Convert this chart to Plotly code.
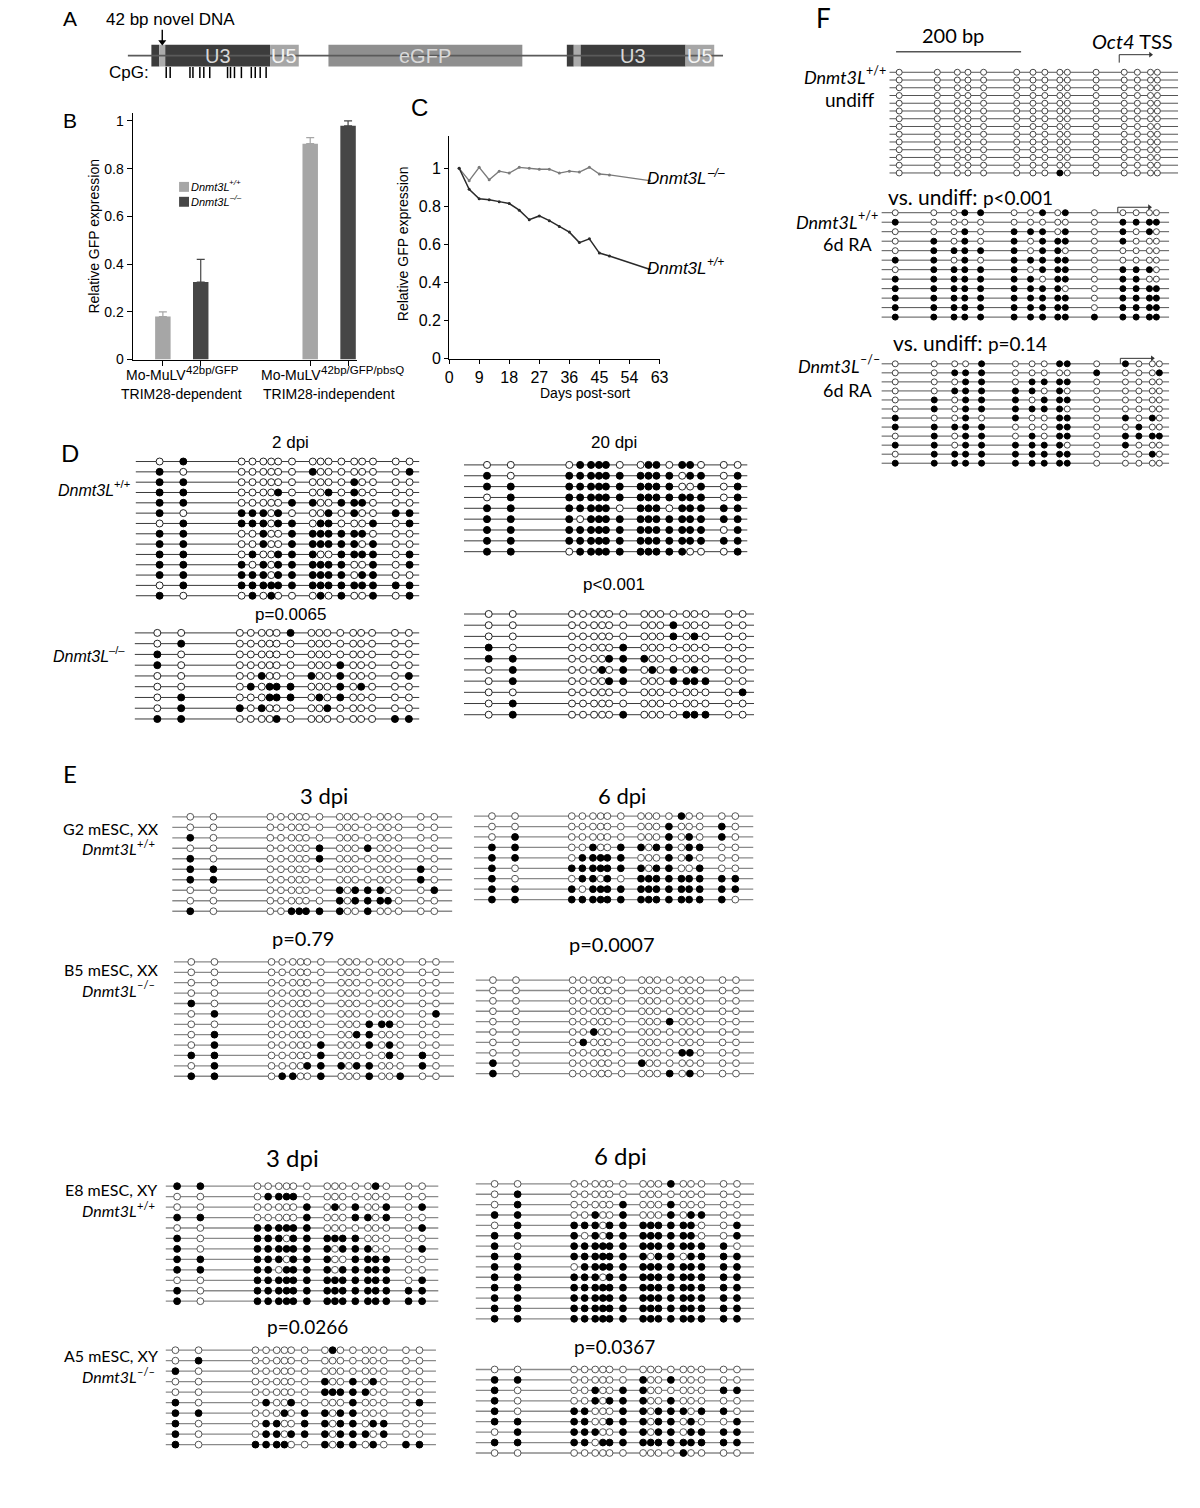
import plotly.graph_objects as go

W, H = 1200, 1508
SANS = "Liberation Sans, Arial, Helvetica, sans-serif"
MYR = "Lato, Noto Sans, sans-serif"

# ======================= DATA =======================
# --- Panel A: provirus map (construct units from left end of backbone) ---
A_BACKBONE = [0, 602]
A_ELEM_KIND = ["R", "novel", "U3", "U5", "eGFP", "R", "novel", "U3", "U5"]
A_ELEM_START = [24, 32, 38, 144, 203, 444, 451, 458, 564]
A_ELEM_END = [32, 38, 144, 173, 399, 451, 458, 564, 593]
A_ELEM_LABEL = ["", "", "U3", "U5", "eGFP", "", "", "U3", "U5"]
A_CPG_POS = [39, 43, 63, 66, 73, 77, 83, 101, 104, 108, 115, 125, 129, 134, 140]

# --- Panel B: relative GFP expression ---
B_GROUP_BASE = ["Mo-MuLV", "Mo-MuLV"]
B_GROUP_SUP = ["42bp/GFP", "42bp/GFP/pbsQ"]
B_GROUP_LINE2 = ["TRIM28-dependent", "TRIM28-independent"]
B_SERIES_SUP = ["+/+", "–/–"]
B_WT = [0.18, 0.905]
B_WT_ERR = [0.02, 0.025]
B_KO = [0.325, 0.98]
B_KO_ERR = [0.095, 0.02]
B_YTICKS = [0, 0.2, 0.4, 0.6, 0.8, 1]
B_YTICKTEXT = ["0", "0.2", "0.4", "0.6", "0.8", "1"]

# --- Panel C: GFP expression over time ---
C_DAYS = [3, 6, 9, 12, 15, 18, 21, 24, 27, 30, 33, 36, 39, 42, 45, 48, 60]
C_KO = [1.0, 0.935, 1.005, 0.94, 0.985, 0.975, 1.005, 1.0, 0.995, 0.995, 0.975, 0.985, 0.98, 1.005, 0.97, 0.965, 0.935]
C_WT = [1.0, 0.89, 0.84, 0.835, 0.825, 0.815, 0.78, 0.73, 0.75, 0.725, 0.695, 0.665, 0.61, 0.63, 0.555, 0.54, 0.47]
C_XTICKS = [0, 9, 18, 27, 36, 45, 54, 63]
C_YTICKS = [0, 0.2, 0.4, 0.6, 0.8, 1]
C_YTICKTEXT = ["0", "0.2", "0.4", "0.6", "0.8", "1"]

# --- Bisulfite data: CpG positions (bp) ---
MULV_CPG_BP = [0, 24, 83, 94, 105, 113, 120, 134, 155, 163, 171, 184, 197, 205, 216, 239, 253]
OCT4_CPG_BP = [0, 61, 93, 110, 135, 188, 214, 233, 257, 269, 315, 360, 381, 402, 413]
OCT4_TSS_BP = 352
SCALE_BAR_BP = 200

# 1 = methylated (filled), 0 = unmethylated (open); one string per clone
D_2DPI_WT = ["01 000000 0000000 00", "10 000000 1000000 01", "11 000000 0000100 00",
             "11 000010 0010100 00", "11 000001 1001110 00", "10 111010 0010100 11",
             "01 111011 0110001 01", "11 001001 1111110 00", "11 001001 1111101 00",
             "11 010011 1001111 01", "11 101011 1111001 01", "11 111011 1111011 00",
             "01 111111 1111111 11", "10 010100 0101001 01"]
D_2DPI_KO = ["00 000001 0000000 00", "01 000000 0000000 00", "10 000000 0000000 00",
             "10 000000 0001000 00", "00 001000 1001000 01", "00 010111 0001010 00",
             "01 000111 0101000 00", "01 101000 0010000 00", "11 000010 0000000 11"]
D_20DPI_WT = ["00 011110 0110110 00", "10 111111 1111011 01", "11 111111 1111001 01",
              "01 111111 1111111 01", "11 111110 1110111 11", "11 101111 1111111 11",
              "11 111111 1111111 01", "11 111111 1111111 11", "11 011111 1111100 01"]
D_20DPI_KO = ["00 000000 0000000 00", "00 000000 0001000 00", "00 000000 0001010 00",
              "10 000001 0000000 00", "11 000011 1000000 00", "01 000101 0101010 00",
              "01 000011 0001111 00", "00 000000 0000000 01", "01 000000 0000000 00",
              "01 000001 0000111 00"]
E_G2_3DPI = ["00 000000 0000000 00", "00 000000 0000000 00", "10 000000 0000000 00",
             "00 000001 0001000 00", "10 000001 0000000 00", "11 000000 0000000 10",
             "11 000000 0000000 10", "00 000000 1011100 01", "00 000000 1011110 00",
             "10 001111 1001000 00"]
E_B5_3DPI = ["00 000000 0000000 00", "00 000000 0000000 00", "00 000000 0000000 00",
             "00 000000 0000000 00", "10 000000 0000000 00", "01 000000 0000000 01",
             "00 000000 0001110 00", "01 000000 0011000 00", "01 000001 0001010 00",
             "11 000001 0000010 10", "01 000011 1011000 10", "11 011001 0001001 00"]
E_G2_6DPI = ["00 000000 0000100 00", "00 000000 0001000 10", "01 000000 0001010 10",
             "11 001001 1011011 00", "11 011111 0001010 00", "10 111111 1011001 00",
             "10 011010 1111111 11", "11 101111 1111111 11", "11 111111 1111111 10"]
E_B5_6DPI = ["00 000000 0000000 00", "00 000000 0000000 00", "00 000000 0000000 00",
             "00 000000 0000000 00", "00 000000 0001000 00", "00 001000 0000000 00",
             "00 010000 0000000 00", "00 000000 0000110 00", "10 000000 1000000 00",
             "10 000000 0001010 00"]
E_E8_3DPI = ["11 000000 0000010 00", "00 011110 0000000 00", "00 000001 0101001 01",
             "11 000001 0001101 00", "00 111111 0000000 01", "10 111011 1111000 00",
             "10 111111 1011100 01", "11 111011 1001111 00", "11 110111 1011111 00",
             "00 111111 1111111 01", "10 111111 1111111 11", "10 111111 1111111 11"]
E_A5_3DPI = ["00 000000 0100000 00", "01 000000 0000000 00", "10 000000 0000000 00",
             "00 000000 1001010 00", "00 000000 1111100 00", "10 010010 0001000 01",
             "11 000101 1011000 00", "10 011001 1011011 00", "10 011011 1011101 00",
             "10 111100 1011010 11"]
E_E8_6DPI = ["00 000000 0001000 00", "01 000000 0000000 00", "01 000001 0001000 00",
             "11 001001 0001011 00", "01 111011 1111110 01", "11 101011 1111110 01",
             "10 111111 1111111 10", "11 111111 1011011 11", "11 011111 1111111 11",
             "11 111011 1111111 11", "11 111111 1111111 11", "11 111111 1111111 11",
             "11 111111 1111111 11", "11 111111 1111111 11"]
E_A5_6DPI = ["00 000000 0000000 00", "11 000000 1001000 00", "10 001001 1000000 11",
             "10 001011 1001000 00", "10 110001 1011101 10", "11 110011 1011010 01",
             "01 111001 1011011 11", "11 110111 1111111 11", "00 000000 0000100 00"]
F_UNDIFF = ["000000000000000"] * 13 + ["000000001000000"]
F_RA_WT = ["000110010100000", "100000000001111", "000101110101010", "010101011101000",
           "011111011000000", "110101111100000", "011111011101110", "111111101101100",
           "111111111001111", "111111111101111", "111111111101111", "111111111111111"]
F_RA_KO = ["000010001101000", "001110000010001", "000110111100000", "001111101000000",
           "010111011100000", "010111111000000", "100101001101010", "111110001100100",
           "010110101101111", "110111111001000", "011111111100010", "111111111100000"]

# ======================= FIGURE =======================
fig = go.Figure()
layout = dict(width=W, height=H, margin=dict(l=0, r=0, t=0, b=0),
              paper_bgcolor="white", plot_bgcolor="white", barmode="overlay",
              hovermode=False, showlegend=False)
annotations = []
shapes = []
_ax = [0]


def new_axes(x0, x1, y0, y1, xr, yr, xkw=None, ykw=None):
    _ax[0] += 1
    k = _ax[0]
    s = "" if k == 1 else str(k)
    xa = dict(domain=[x0 / W, x1 / W], range=xr, anchor="y" + s, visible=False,
              fixedrange=True, showgrid=False, zeroline=False)
    ya = dict(domain=[1 - y1 / H, 1 - y0 / H], range=yr, anchor="x" + s, visible=False,
              fixedrange=True, showgrid=False, zeroline=False)
    if xkw:
        xa.update(xkw)
    if ykw:
        ya.update(ykw)
    layout["xaxis" + s] = xa
    layout["yaxis" + s] = ya
    return "x" + s, "y" + s


def text(x, y, s, size, font=SANS, anchor="center", color="black", angle=0):
    annotations.append(dict(x=x / W, y=1 - y / H, xref="paper", yref="paper", text=s,
                            showarrow=False, xanchor=anchor, yanchor="middle",
                            font=dict(family=font, size=size, color=color), textangle=angle))


def sup_label(x_split, y, base, sup, size, font=SANS, italic=True, sup_italic=False, sup_size=None, gap=0.5):
    """base text ending at x_split, superscript starting at x_split (no <sup> tag)."""
    sup_size = sup_size or round(size * 0.7, 1)
    b = "<i>%s</i>" % base if italic else base
    s = "<i>%s</i>" % sup if sup_italic else sup
    annotations.append(dict(x=x_split / W, y=1 - y / H, xref="paper", yref="paper", text=b,
                            showarrow=False, xanchor="right", yanchor="middle", borderpad=0,
                            borderwidth=0, font=dict(family=font, size=size, color="black")))
    annotations.append(dict(x=(x_split + gap) / W, y=1 - (y - 0.36 * size) / H, xref="paper",
                            yref="paper", text=s, showarrow=False, xanchor="left", yanchor="middle",
                            borderpad=0, borderwidth=0,
                            font=dict(family=font, size=sup_size, color="black")))


def arrow(xa, ya, xs, ys, head_symbol, color, width, head_size):
    fig.add_trace(go.Scatter(x=xs, y=ys, mode="lines", line=dict(color=color, width=width),
                             xaxis=xa, yaxis=ya, showlegend=False, hoverinfo="skip"))
    fig.add_trace(go.Scatter(x=[xs[-1]], y=[ys[-1]], mode="markers", cliponaxis=False,
                             marker=dict(symbol=head_symbol, size=head_size, color=color),
                             xaxis=xa, yaxis=ya, showlegend=False, hoverinfo="skip"))


# ---------------- Panel A ----------------
xa, ya = new_axes(125, 727, 28, 84, A_BACKBONE, [-1.273, 1.273])
fig.add_trace(go.Scatter(x=A_BACKBONE, y=[0, 0], mode="lines", line=dict(color="#5a5a5a", width=1.6),
                         xaxis=xa, yaxis=ya, showlegend=False, hoverinfo="skip"))
kind_fill = {"R": "#3c3c3c", "novel": "#ababab", "U3": "#3c3c3c", "U5": "#a6a6a6", "eGFP": "#8f8f8f"}
kind_txt = {"R": "white", "novel": "white", "U3": "#d8d8d8", "U5": "#f4f4f4", "eGFP": "#d9d9d9"}
fig.add_trace(go.Bar(orientation="h", y=[0] * len(A_ELEM_START),
                     x=[e - s for s, e in zip(A_ELEM_START, A_ELEM_END)], base=A_ELEM_START,
                     width=1, marker=dict(color=[kind_fill[k] for k in A_ELEM_KIND], line=dict(width=0)),
                     xaxis=xa, yaxis=ya, showlegend=False, hoverinfo="skip"))
for s_, e_, lab, k in zip(A_ELEM_START, A_ELEM_END, A_ELEM_LABEL, A_ELEM_KIND):
    if lab:
        annotations.append(dict(x=(s_ + e_) / 2, y=0, xref=xa, yref=ya, text=lab, showarrow=False,
                                xanchor="center", yanchor="middle",
                                font=dict(family=SANS, size=20, color=kind_txt[k])))
fig.add_trace(go.Scatter(x=A_CPG_POS, y=[-0.77] * len(A_CPG_POS), mode="markers",
                         marker=dict(symbol="line-ns", size=8, line=dict(width=1.5, color="black")),
                         xaxis=xa, yaxis=ya, showlegend=False, hoverinfo="skip", cliponaxis=False))
novel_mid = (A_ELEM_START[1] + A_ELEM_END[1]) / 2
arrow(xa, ya, [novel_mid, novel_mid], [1.18, 0.62], "triangle-down", "black", 1.4, 7)
text(67, 19, "A", 21)
text(101, 20, "42 bp novel DNA", 17, anchor="left")
text(104, 73, "CpG:", 17, anchor="left")

# ---------------- Panel B ----------------
BAR_STEP = 0.257
bar_x = []
for gi in range(2):
    for si in range(2):
        bar_x.append(gi + (si - 0.5) * BAR_STEP)
axis_common = dict(visible=True, showline=True, linecolor="black", linewidth=1, ticks="outside",
                   ticklen=5, tickcolor="black", tickwidth=1, showgrid=False, zeroline=False)
xa, ya = new_axes(130, 357, 113.3, 361.7, [-0.334, 1.19], [0, 1.035],
                  xkw=dict(axis_common, tickvals=bar_x, showticklabels=False),
                  ykw=dict(axis_common, tickvals=B_YTICKS, ticktext=B_YTICKTEXT,
                           tickfont=dict(family=SANS, size=14, color="black")))
series = [(B_WT, B_WT_ERR, "#a6a6a6"), (B_KO, B_KO_ERR, "#464646")]
for si, (vals, errs, col) in enumerate(series):
    xs = [bar_x[gi * 2 + si] for gi in range(2)]
    fig.add_trace(go.Bar(x=xs, y=vals, width=0.105, marker=dict(color=col, line=dict(width=0)),
                         error_y=dict(type="data", array=errs, arrayminus=[0, 0], symmetric=False,
                                      color=col, thickness=1.2, width=4),
                         xaxis=xa, yaxis=ya, showlegend=False, hoverinfo="skip"))
    # legend swatch + label
    ly = 188 + 15 * si
    shapes.append(dict(type="rect", xref="paper", yref="paper", x0=177 / W, x1=187 / W,
                       y0=1 - (ly + 5) / H, y1=1 - (ly - 5) / H, fillcolor=col, line=dict(width=0)))
    sup_label(228, ly, "Dnmt3L", B_SERIES_SUP[si], 11, sup_italic=True, sup_size=8, gap=-1)
# group labels (split point chosen so that base+sup is centred on the group)
for gi, split in enumerate([183.5, 320]):
    sup_label(split, 377, B_GROUP_BASE[gi], B_GROUP_SUP[gi], 14, italic=False, sup_size=11.5)
    annotations.append(dict(x=gi, y=1 - 396 / H, xref=xa, yref="paper", text=B_GROUP_LINE2[gi],
                            showarrow=False, yanchor="middle", font=dict(family=SANS, size=14, color="black")))
text(91, 238, "Relative GFP expression", 14, angle=-90)
text(67, 121, "B", 21)

# ---------------- Panel C ----------------
xa, ya = new_axes(450, 662.7, 136.7, 361, [0, 63], [0, 1.17],
                  xkw=dict(axis_common, ticklen=4, tickvals=C_XTICKS,
                           tickfont=dict(family=SANS, size=16, color="black")),
                  ykw=dict(axis_common, ticklen=4, tickvals=C_YTICKS, ticktext=C_YTICKTEXT,
                           tickfont=dict(family=SANS, size=16, color="black")))
fig.add_trace(go.Scatter(x=C_DAYS, y=C_KO, mode="lines+markers", line=dict(color="#7a7a7a", width=1.3),
                         marker=dict(size=3, color="#7a7a7a"), xaxis=xa, yaxis=ya,
                         showlegend=False, hoverinfo="skip"))
fig.add_trace(go.Scatter(x=C_DAYS, y=C_WT, mode="lines+markers", line=dict(color="#2a2a2a", width=1.5),
                         marker=dict(size=3, color="#2a2a2a"), xaxis=xa, yaxis=ya,
                         showlegend=False, hoverinfo="skip"))
text(420, 108, "C", 24)
text(403, 245, "Relative GFP expression", 14, angle=-90)
text(587, 395, "Days post-sort", 14)
sup_label(711, 180, "Dnmt3L", "–/–", 17, sup_italic=True, gap=0)
sup_label(711, 270, "Dnmt3L", "+/+", 17, sup_italic=True, gap=0)


# ---------------- Bisulfite lollipop blocks ----------------
def add_block(rows, cpg, p0, p1, lx0, lx1, ytop, ybot, dot, line_color, edge_color, line_w, pad_top=0):
    n = len(rows)
    s = (p1 - p0) / (cpg[-1] - cpg[0])
    r0 = cpg[0] + (lx0 - p0) / s
    r1 = cpg[0] + (lx1 - p0) / s
    dy = (ybot - ytop) / (n - 1)
    xa, ya = new_axes(lx0, lx1, ytop - dy / 2 - pad_top, ybot + dy / 2,
                      [r0, r1], [n - 0.5, -0.5 - pad_top / dy])
    lx, ly = [], []
    for i in range(n):
        lx += [r0, r1, None]
        ly += [i, i, None]
    fig.add_trace(go.Scatter(x=lx, y=ly, mode="lines", line=dict(color=line_color, width=line_w),
                             xaxis=xa, yaxis=ya, showlegend=False, hoverinfo="skip"))
    ox, oy, fx, fy = [], [], [], []
    for i, r in enumerate(rows):
        bits = r.replace(" ", "")
        for j, b in enumerate(bits):
            if b == "1":
                fx.append(cpg[j]); fy.append(i)
            else:
                ox.append(cpg[j]); oy.append(i)
    fig.add_trace(go.Scatter(x=ox, y=oy, mode="markers", cliponaxis=False,
                             marker=dict(symbol="circle", size=dot, color="white",
                                         line=dict(color=edge_color, width=1)),
                             xaxis=xa, yaxis=ya, showlegend=False, hoverinfo="skip"))
    fig.add_trace(go.Scatter(x=fx, y=fy, mode="markers", cliponaxis=False,
                             marker=dict(symbol="circle", size=dot, color="black",
                                         line=dict(color="black", width=1)),
                             xaxis=xa, yaxis=ya, showlegend=False, hoverinfo="skip"))
    return xa, ya, ytop, dy


D_STYLE = dict(dot=7, line_color="#3a3a3a", edge_color="#222222", line_w=1)
E_STYLE = dict(dot=6.8, line_color="#8a8a8a", edge_color="#555555", line_w=1.3)
F_STYLE = dict(dot=6, line_color="#555555", edge_color="#444444", line_w=1)

# Panel D
add_block(D_2DPI_WT, MULV_CPG_BP, 157.3, 410, 133, 420, 464.3, 599.3, **D_STYLE)
add_block(D_2DPI_KO, MULV_CPG_BP, 155, 409.3, 132, 420, 636.7, 723.3, **D_STYLE)
add_block(D_20DPI_WT, MULV_CPG_BP, 488.3, 741.7, 465, 751.7, 467.7, 555, **D_STYLE)
add_block(D_20DPI_KO, MULV_CPG_BP, 490, 746.7, 465, 758.3, 617.7, 719, **D_STYLE)
text(67, 455, "D", 24, font=MYR)
text(290, 445, "2 dpi", 17)
text(290, 618, "p=0.0065", 17)
text(617, 445, "20 dpi", 17)
text(617, 588, "p&lt;0.001", 17)
sup_label(111, 493, "Dnmt3L", "+/+", 16)
sup_label(106, 660, "Dnmt3L", "–/–", 16)

# Panel E
add_block(E_G2_3DPI, MULV_CPG_BP, 188.3, 435, 170, 453.3, 821.7, 916.7, **E_STYLE)
add_block(E_B5_3DPI, MULV_CPG_BP, 189.3, 436.7, 171.7, 455, 967.7, 1082.7, **E_STYLE)
add_block(E_G2_6DPI, MULV_CPG_BP, 493.3, 739.3, 475, 757.7, 821, 905, **E_STYLE)
add_block(E_B5_6DPI, MULV_CPG_BP, 494.3, 740, 476.7, 758.3, 986, 1080, **E_STYLE)
add_block(E_E8_3DPI, MULV_CPG_BP, 175, 422.7, 163.3, 439.3, 1193.3, 1309, **E_STYLE)
add_block(E_A5_3DPI, MULV_CPG_BP, 173.3, 420, 163.3, 436.7, 1358.3, 1453.3, **E_STYLE)
add_block(E_E8_6DPI, MULV_CPG_BP, 496, 741, 476.7, 758.3, 1191, 1326.7, **E_STYLE)
add_block(E_A5_6DPI, MULV_CPG_BP, 496, 741, 476.7, 758.3, 1377.7, 1461.7, **E_STYLE)
text(67, 778, "E", 24, font=MYR)
text(323, 800, "3 dpi", 22, font=MYR)
text(625, 800, "6 dpi", 22, font=MYR)
text(302, 944, "p=0.79", 20, font=MYR)
text(615, 950, "p=0.0007", 20, font=MYR)
text(292, 1164, "3 dpi", 24, font=MYR)
text(623, 1162, "6 dpi", 24, font=MYR)
text(307, 1334, "p=0.0266", 19, font=MYR)
text(617, 1355, "p=0.0367", 19, font=MYR)
for (lab, gen, yy) in [("G2 mESC, XX", "+/+", 833), ("B5 mESC, XX", "–/–", 975),
                       ("E8 mESC, XY", "+/+", 1197), ("A5 mESC, XY", "–/–", 1364)]:
    text(108, yy, lab, 16, font=MYR)
    sup_label(134, yy + 21, "Dnmt3L", gen, 16, font=MYR)

# Panel F
fa, fy_, ftop, fdy = add_block(F_UNDIFF, OCT4_CPG_BP, 905, 1166, 895, 1187, 72.7, 174, pad_top=24, **F_STYLE)
wa, wy, wtop, wdy = add_block(F_RA_WT, OCT4_CPG_BP, 901, 1165, 887, 1178, 214, 319, pad_top=10, **F_STYLE)
ka, ky, ktop, kdy = add_block(F_RA_KO, OCT4_CPG_BP, 901, 1168, 887, 1178, 366, 466, pad_top=10, **F_STYLE)

# scale bar (200 bp) in undiff block coordinates
fig.add_trace(go.Scatter(x=[-5, -5 + SCALE_BAR_BP], y=[(52 - ftop) / fdy] * 2, mode="lines",
                         line=dict(color="#555555", width=1.5), xaxis=fa, yaxis=fy_,
                         showlegend=False, hoverinfo="skip"))
# TSS arrows (bent arrow)
for (xa_, ya_, top, dy, yh, yl) in [(fa, fy_, ftop, fdy, 55, 63), (wa, wy, wtop, wdy, 208.5, 214),
                                    (ka, ky, ktop, kdy, 360.5, 366)]:
    rh = (yh - top) / dy
    rl = (yl - top) / dy
    arrow(xa_, ya_, [OCT4_TSS_BP, OCT4_TSS_BP, OCT4_TSS_BP + 50], [rl, rh, rh],
          "triangle-right", "#333333", 1, 5)

text(828, 18, "F", 26, font=MYR)
text(959, 35, "200 bp", 20, font=MYR)
text(1141, 41, "<i>Oct4</i> TSS", 20, font=MYR)
sup_label(871, 77, "Dnmt3L", "+/+", 18, font=MYR)
text(882, 100, "undiff", 19, font=MYR, anchor="right")
text(977, 198, "vs. undiff: <span style='font-size:19px'>p&lt;0.001</span>", 21, font=MYR)
sup_label(863, 223, "Dnmt3L", "+/+", 18, font=MYR)
text(880, 245, "6d RA", 18, font=MYR, anchor="right")
text(977, 345, "vs. undiff: <span style='font-size:19px'>p=0.14</span>", 21, font=MYR)
sup_label(865, 368, "Dnmt3L", "–/–", 18, font=MYR)
text(880, 392, "6d RA", 18, font=MYR, anchor="right")

layout["annotations"] = annotations
layout["shapes"] = shapes
fig.update_layout(**layout)
fig.write_html("out.html", config={"displayModeBar": False},
               post_script="document.body.style.margin='0px';")
